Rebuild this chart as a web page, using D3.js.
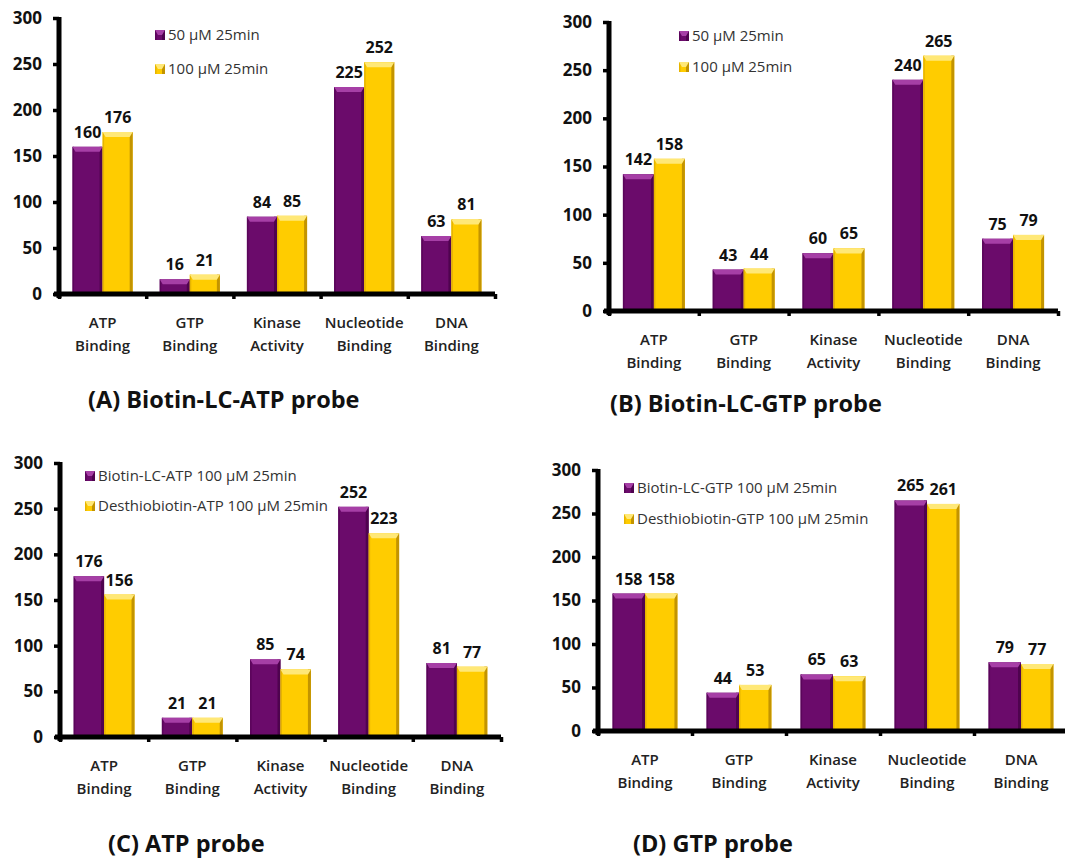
<!DOCTYPE html>
<html>
<head>
<meta charset="utf-8">
<script src="https://cdn.jsdelivr.net/npm/d3@7"></script>
<style>
  html, body { margin: 0; padding: 0; background: #fff; }
  svg { display: block; }
  text { font-family: "Open Sans", "DejaVu Sans", sans-serif; }
</style>
</head>
<body>
<svg id="chart" width="1065" height="860"></svg>
<script>
// ---------------- DATA ----------------
const categories = ["ATP Binding", "GTP Binding", "Kinase Activity", "Nucleotide Binding", "DNA Binding"];
const yTicks = [0, 50, 100, 150, 200, 250, 300];

const seriesA1 = [160, 16, 84, 225, 63];
const seriesA2 = [176, 21, 85, 252, 81];
const legendA = ["50 \u00B5M 25min", "100 \u00B5M 25min"];
const titleA = "(A) Biotin-LC-ATP probe";

const seriesB1 = [142, 43, 60, 240, 75];
const seriesB2 = [158, 44, 65, 265, 79];
const legendB = ["50 \u00B5M 25min", "100 \u00B5M 25min"];
const titleB = "(B) Biotin-LC-GTP probe";

const seriesC1 = [176, 21, 85, 252, 81];
const seriesC2 = [156, 21, 74, 223, 77];
const legendC = ["Biotin-LC-ATP 100 \u00B5M 25min", "Desthiobiotin-ATP 100 \u00B5M 25min"];
const titleC = "(C) ATP probe";

const seriesD1 = [158, 44, 65, 265, 79];
const seriesD2 = [158, 53, 63, 261, 77];
const legendD = ["Biotin-LC-GTP 100 \u00B5M 25min", "Desthiobiotin-GTP 100 \u00B5M 25min"];
const titleD = "(D) GTP probe";

// ---------------- STYLE / LAYOUT ----------------
const colors = [
  { main: "#6b0b6b", light: "#a63fa6", dark: "#4a024a", edge: "#5a055a" },
  { main: "#ffcc00", light: "#ffe877", dark: "#b88a00", edge: "#e6b400" }
];

const panels = [
  { s: [seriesA1, seriesA2], legend: legendA, title: titleA,
    x0: 59, x1: 495, yTop: 18, y0: 294, lx: 155, ly: 30, ldy: 34, tx: 88, ty: 408 },
  { s: [seriesB1, seriesB2], legend: legendB, title: titleB,
    x0: 609, x1: 1058, yTop: 22, y0: 311, lx: 679, ly: 31, ldy: 31, tx: 610, ty: 412 },
  { s: [seriesC1, seriesC2], legend: legendC, title: titleC,
    x0: 60, x1: 501, yTop: 463, y0: 737, lx: 85, ly: 471, ldy: 30, tx: 108, ty: 852 },
  { s: [seriesD1, seriesD2], legend: legendD, title: titleD,
    x0: 598, x1: 1068, yTop: 470, y0: 731, lx: 624, ly: 483, ldy: 31, tx: 633, ty: 852 }
];

const svg = d3.select("#chart");

function drawBar(g, x, w, yTopPx, yBase, c) {
  const h = yBase - yTopPx;
  g.append("rect").attr("x", x).attr("y", yTopPx).attr("width", w).attr("height", h)
    .attr("fill", c.main);
  g.append("rect").attr("x", x).attr("y", yTopPx).attr("width", 1.5).attr("height", h)
    .attr("fill", c.edge);
  g.append("rect").attr("x", x + w - 3).attr("y", yTopPx).attr("width", 3).attr("height", h)
    .attr("fill", c.dark).attr("opacity", 0.85);
  const bev = Math.min(5, h);
  g.append("polygon")
    .attr("points", [[x, yTopPx], [x + w, yTopPx], [x + w - 3, yTopPx + bev], [x + 3, yTopPx + bev]].map(p => p.join(",")).join(" "))
    .attr("fill", c.light);
}

panels.forEach(p => {
  const g = svg.append("g");
  const y = d3.scaleLinear().domain([0, 300]).range([p.y0, p.yTop]);
  const xBand = d3.scaleBand().domain(categories).range([p.x0, p.x1]).padding(0);
  const xEdge = d3.scaleLinear().domain([0, categories.length]).range([p.x0, p.x1]);
  const bw = xBand.bandwidth() * 0.345;

  p.s.forEach((series, si) => {
    series.forEach((v, i) => {
      const cx = xBand(categories[i]) + xBand.bandwidth() / 2;
      const bx = cx - bw + si * bw;
      drawBar(g, bx, bw, y(v), p.y0, colors[si]);
      g.append("text")
        .attr("x", bx + bw / 2).attr("y", y(v) - 9)
        .attr("text-anchor", "middle")
        .attr("font-size", 16).attr("font-weight", 700).attr("fill", "#111")
        .text(v);
    });
  });

  const yAxis = d3.axisLeft(y).tickValues(yTicks).tickSize(6).tickSizeOuter(0).tickPadding(11);
  const ya = g.append("g").attr("transform", `translate(${p.x0},0)`).call(yAxis);
  ya.select(".domain").attr("stroke", "#000").attr("stroke-width", 5)
    .attr("d", `M0,${p.y0 + 4}V${p.yTop - 1}`);
  ya.selectAll(".tick line").attr("stroke", "#000").attr("stroke-width", 3.5);
  ya.selectAll(".tick text").attr("font-size", 17).attr("font-weight", 700)
    .attr("fill", "#111").style("font-family", "'Open Sans', sans-serif");

  const xAxis = d3.axisBottom(xEdge).tickValues(d3.range(categories.length + 1))
    .tickFormat("").tickSize(5).tickSizeOuter(0);
  const xa = g.append("g").attr("transform", `translate(0,${p.y0})`).call(xAxis);
  xa.select(".domain").attr("stroke", "#000").attr("stroke-width", 5)
    .attr("d", `M${p.x0 - 5},0H${p.x1}`);
  xa.selectAll(".tick line").attr("stroke", "#000").attr("stroke-width", 3.5);

  categories.forEach(cat => {
    const parts = cat.split(" ");
    const t = g.append("text")
      .attr("x", xBand(cat) + xBand.bandwidth() / 2)
      .attr("y", p.y0 + 34)
      .attr("text-anchor", "middle")
      .attr("font-size", 15).attr("font-weight", 600).attr("fill", "#222");
    parts.forEach((w, k) => {
      t.append("tspan").attr("x", xBand(cat) + xBand.bandwidth() / 2)
        .attr("dy", k === 0 ? 0 : 23).text(w);
    });
  });

  p.legend.forEach((lab, li) => {
    const ly = p.ly + li * p.ldy;
    drawBar(g, p.lx, 10, ly, ly + 10, colors[li]);
    g.append("text").attr("x", p.lx + 13).attr("y", ly + 10)
      .attr("font-size", 15).attr("fill", "#333").text(lab);
  });

  g.append("text").attr("x", p.tx).attr("y", p.ty)
    .attr("font-size", 23.5).attr("font-weight", 700).attr("fill", "#111")
    .text(p.title);
});
</script>
</body>
</html>
